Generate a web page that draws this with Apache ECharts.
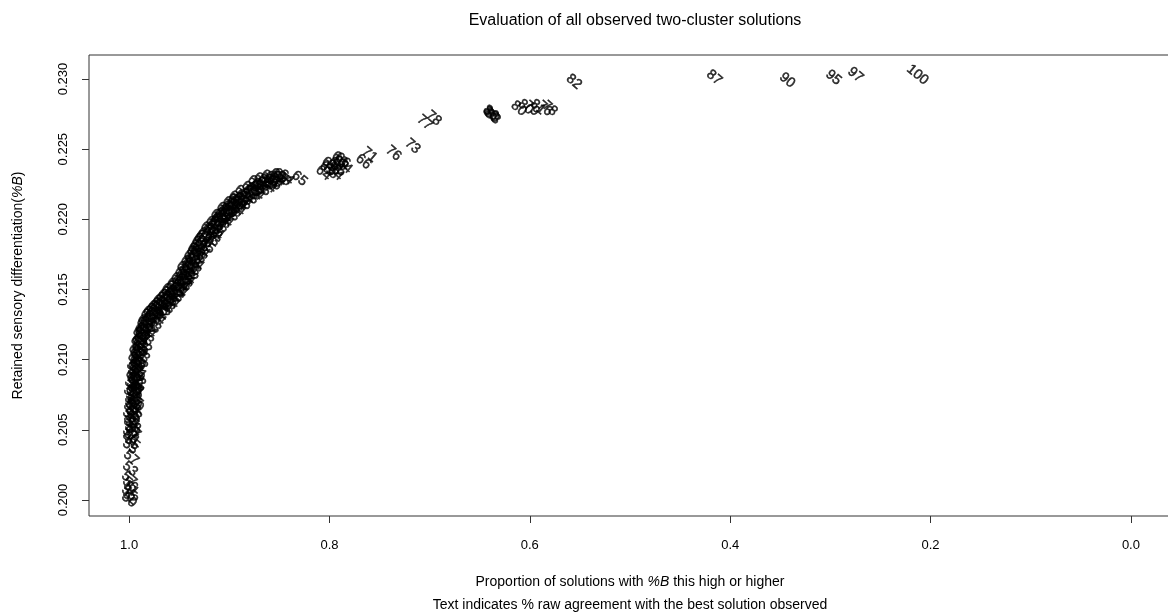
<!DOCTYPE html>
<html>
<head>
<meta charset="utf-8">
<title>Evaluation of all observed two-cluster solutions</title>
<script src="https://cdn.jsdelivr.net/npm/echarts@6/dist/echarts.min.js"></script>
<style>
  html, body { margin: 0; padding: 0; background: #fff; }
  #chart { width: 1168px; height: 614px; }
</style>
</head>
<body>
<div id="chart"></div>
<script>
// proportion of solutions with %B this high or higher
var proportion = [
  1.000, 0.999, 1.000, 0.998, 0.999, 1.000, 0.999, 0.998, 0.999, 0.998, 0.997, 0.998, 0.997, 0.996,
  0.996, 0.995, 0.996, 0.995, 0.994, 0.995, 0.994, 0.993, 0.994, 0.993, 0.992, 0.992, 0.991, 0.990,
  0.990, 0.989, 0.988, 0.987, 0.986, 0.984,
  0.982, 0.980, 0.978, 0.976, 0.974, 0.972, 0.969, 0.966, 0.963, 0.960, 0.958, 0.955, 0.952, 0.950,
  0.948, 0.946, 0.944,
  0.942, 0.940, 0.938, 0.936, 0.934, 0.932, 0.930, 0.927, 0.924,
  0.921, 0.918, 0.915, 0.912, 0.910, 0.907, 0.904, 0.900, 0.896, 0.892, 0.888,
  0.915, 0.911, 0.906, 0.902, 0.898, 0.894, 0.890, 0.886, 0.882, 0.879, 0.876, 0.873, 0.870, 0.866,
  0.862, 0.858, 0.854, 0.850, 0.846, 0.843, 0.830,
  0.806, 0.802, 0.799, 0.796, 0.793, 0.791, 0.789, 0.787, 0.794, 0.800, 0.785, 0.790,
  0.766, 0.760, 0.736, 0.717, 0.696, 0.705,
  0.639, 0.638, 0.637, 0.639,
  0.611, 0.604, 0.598, 0.592, 0.585, 0.580,
  0.556, 0.416, 0.343, 0.297, 0.275, 0.213,
  // second pass over the dense band
  0.997, 0.999, 0.996, 0.999, 0.998, 0.993, 0.997, 0.998, 0.992, 0.997, 0.991, 0.996, 0.990, 0.995,
  0.989, 0.994, 0.987, 0.993, 0.985, 0.991, 0.983, 0.989, 0.980, 0.987,
  0.976, 0.984, 0.971, 0.979, 0.967, 0.974, 0.962, 0.969, 0.957, 0.964, 0.953, 0.960, 0.949, 0.955,
  0.945, 0.951, 0.942, 0.947,
  0.939, 0.945, 0.936, 0.941, 0.933, 0.938, 0.930, 0.934, 0.927, 0.930, 0.922, 0.926,
  0.917, 0.921, 0.913, 0.916, 0.908, 0.911, 0.903, 0.905, 0.897, 0.899, 0.891, 0.893, 0.885, 0.887,
  0.878, 0.880, 0.872, 0.874, 0.866, 0.868, 0.860, 0.861, 0.855, 0.852,
  // third pass
  0.999, 0.996, 0.998, 0.995, 0.997, 0.994, 0.996, 0.993, 0.995, 0.992, 0.994, 0.991, 0.992, 0.989,
  0.990, 0.986, 0.987, 0.982, 0.985, 0.977, 0.981, 0.973, 0.976, 0.968, 0.971, 0.964, 0.966, 0.959,
  0.961, 0.954, 0.956, 0.950, 0.946, 0.943, 0.940, 0.937, 0.935, 0.932, 0.928, 0.924, 0.919, 0.914,
  0.909, 0.904, 0.900, 0.895, 0.889, 0.884, 0.877, 0.871, 0.864, 0.857, 0.849
];
// retained sensory differentiation (%B)
var retained = [
  0.2000, 0.2002, 0.2005, 0.2008, 0.2011, 0.2015, 0.2022, 0.2030, 0.2038, 0.2045, 0.2050, 0.2054, 0.2058, 0.2062,
  0.2066, 0.2069, 0.2072, 0.2075, 0.2078, 0.2081, 0.2084, 0.2087, 0.2090, 0.2093, 0.2096, 0.2099, 0.2102, 0.2105,
  0.2108, 0.2111, 0.2114, 0.2117, 0.2120, 0.2123,
  0.2126, 0.2128, 0.2130, 0.2132, 0.2134, 0.2136, 0.2138, 0.2140, 0.2142, 0.2144, 0.2146, 0.2148, 0.2150, 0.2152,
  0.2154, 0.2156, 0.2158,
  0.2161, 0.2164, 0.2167, 0.2170, 0.2173, 0.2176, 0.2179, 0.2182, 0.2185,
  0.2188, 0.2191, 0.2194, 0.2197, 0.2200, 0.2203, 0.2205, 0.2208, 0.2210, 0.2212, 0.2214,
  0.2190, 0.2199, 0.2201, 0.2204, 0.2207, 0.2213, 0.2211, 0.2216, 0.2217, 0.2219, 0.2221, 0.2222, 0.2224, 0.2225,
  0.2226, 0.2227, 0.2228, 0.2229, 0.2229, 0.2230, 0.2229,
  0.2233, 0.2236, 0.2234, 0.2237, 0.2239, 0.2236, 0.2240, 0.2242, 0.2233, 0.2239, 0.2238, 0.2243,
  0.2241, 0.2246, 0.2247, 0.2252, 0.2272, 0.2269,
  0.2276, 0.2274, 0.2273, 0.2275,
  0.2279, 0.2280, 0.2279, 0.2280, 0.2279, 0.2279,
  0.2298, 0.2301, 0.2299, 0.2301, 0.2303, 0.2303,
  // second pass over the dense band
  0.2041, 0.2047, 0.2053, 0.2060, 0.2065, 0.2068, 0.2070, 0.2076, 0.2079, 0.2082, 0.2085, 0.2088, 0.2091, 0.2094,
  0.2097, 0.2100, 0.2103, 0.2106, 0.2109, 0.2112, 0.2115, 0.2118, 0.2121, 0.2121,
  0.2124, 0.2127, 0.2130, 0.2133, 0.2134, 0.2137, 0.2138, 0.2141, 0.2142, 0.2145, 0.2146, 0.2149, 0.2150, 0.2153,
  0.2154, 0.2157, 0.2158, 0.2161,
  0.2160, 0.2165, 0.2165, 0.2169, 0.2169, 0.2173, 0.2174, 0.2178, 0.2178, 0.2183, 0.2181, 0.2187,
  0.2186, 0.2193, 0.2191, 0.2197, 0.2196, 0.2202, 0.2200, 0.2207, 0.2204, 0.2211, 0.2208, 0.2215, 0.2212, 0.2219,
  0.2216, 0.2222, 0.2219, 0.2226, 0.2222, 0.2228, 0.2224, 0.2230, 0.2226, 0.2231,
  // third pass
  0.2044, 0.2049, 0.2056, 0.2061, 0.2067, 0.2071, 0.2077, 0.2080, 0.2086, 0.2089, 0.2095, 0.2098, 0.2104, 0.2107,
  0.2113, 0.2116, 0.2119, 0.2122, 0.2125, 0.2128, 0.2131, 0.2132, 0.2135, 0.2136, 0.2139, 0.2139, 0.2143, 0.2143,
  0.2147, 0.2147, 0.2151, 0.2155, 0.2159, 0.2163, 0.2167, 0.2171, 0.2176, 0.2180, 0.2185, 0.2189, 0.2192, 0.2196,
  0.2199, 0.2203, 0.2206, 0.2209, 0.2213, 0.2215, 0.2219, 0.2223, 0.2227, 0.2229, 0.2231
];
// % raw agreement with the best solution observed
var agreement = [
  50, 52, 55, 51, 56, 57, 53, 57, 55, 56, 58, 54, 59, 56,
  58, 60, 57, 59, 61, 58, 60, 62, 59, 61, 60, 63, 61, 62,
  60, 63, 61, 62, 64, 62,
  63, 61, 64, 62, 63, 65, 62, 64, 63, 61, 64, 62, 65, 63,
  64, 62, 65,
  63, 64, 62, 65, 63, 64, 66, 63, 65,
  64, 66, 63, 65, 64, 66, 63, 65, 64, 66, 65,
  62, 66, 64, 62, 66, 63, 64, 66, 64, 63, 65, 66, 64, 63,
  65, 64, 66, 64, 63, 64, 65,
  64, 65, 63, 66, 64, 65, 63, 66, 64, 65, 64, 66,
  66, 71, 76, 73, 78, 77,
  86, 80, 83, 88,
  80, 80, 79, 81, 76, 78,
  82, 87, 90, 95, 97, 100,
  // second pass over the dense band
  55, 57, 58, 56, 59, 60, 58, 57, 61, 59, 62, 60, 61, 59,
  62, 60, 63, 61, 62, 60, 63, 61, 64, 62,
  63, 62, 64, 63, 62, 64, 63, 65, 64, 62, 63, 65, 64, 62,
  63, 65, 64, 63,
  62, 64, 63, 65, 64, 62, 63, 65, 64, 63, 65, 64,
  63, 65, 64, 66, 63, 65, 64, 66, 63, 65, 64, 66, 65, 64,
  63, 65, 64, 66, 65, 63, 64, 65, 66, 64,
  // third pass
  56, 57, 55, 58, 59, 57, 60, 58, 61, 59, 62, 60, 61, 63,
  62, 61, 63, 62, 64, 63, 62, 64, 63, 65, 62, 64, 63, 65,
  64, 62, 63, 64, 65, 63, 64, 62, 65, 63, 64, 65, 63, 64,
  66, 64, 63, 65, 64, 66, 63, 65, 64, 66, 65
];

var xTicks = [1.0, 0.8, 0.6, 0.4, 0.2, 0.0];
var yTicks = [0.200, 0.205, 0.210, 0.215, 0.220, 0.225, 0.230];

var points = proportion.map(function (p, i) {
  return [p, retained[i], agreement[i]];
});

var chart = echarts.init(document.getElementById('chart'), null, { renderer: 'canvas' });

var font = '"Liberation Sans", Arial, sans-serif';

var option = {
  backgroundColor: '#ffffff',
  animation: false,
  textStyle: { fontFamily: font },
  title: {
    text: 'Evaluation of all observed two-cluster solutions',
    left: 630,
    top: 8,
    textAlign: 'center',
    textStyle: { fontFamily: font, fontSize: 16, fontWeight: 'normal', color: '#000' }
  },
  grid: {
    left: 89,
    top: 55,
    width: 1082,
    height: 461,
    outerBoundsMode: 'none',
    containLabel: false,
    show: true,
    borderColor: '#333',
    borderWidth: 1,
    backgroundColor: 'transparent'
  },
  xAxis: {
    type: 'value',
    inverse: true,
    min: -0.04,
    max: 1.04,
    splitLine: { show: false },
    axisLine: { show: false, onZero: false },
    axisTick: { show: true, length: 7, lineStyle: { color: '#333' }, customValues: xTicks },
    axisLabel: {
      customValues: xTicks,
      margin: 23,
      fontSize: 13,
      color: '#000',
      fontFamily: font,
      formatter: function (v) { return v.toFixed(1); }
    },
    name: '{n|Proportion of solutions with }{i|%B}{n| this high or higher}\n{n|Text indicates % raw agreement with the best solution observed}',
    nameLocation: 'middle',
    nameGap: 55,
    nameTextStyle: {
      lineHeight: 23,
      rich: {
        n: { fontSize: 14, fontFamily: font, color: '#000', lineHeight: 23 },
        i: { fontSize: 14, fontFamily: font, color: '#000', fontStyle: 'italic', lineHeight: 23 }
      }
    }
  },
  yAxis: {
    type: 'value',
    min: 0.19886,
    max: 0.23171,
    splitLine: { show: false },
    axisLine: { show: false, onZero: false },
    axisTick: { show: true, length: 7, lineStyle: { color: '#333' }, customValues: yTicks },
    axisLabel: {
      customValues: yTicks,
      rotate: 90,
      margin: 19,
      fontSize: 13,
      color: '#000',
      fontFamily: font,
      formatter: function (v) { return v.toFixed(3); }
    },
    name: '{n|Retained sensory differentiation(}{i|%B}{n|)}',
    nameLocation: 'middle',
    nameRotate: 90,
    nameGap: 64,
    nameTextStyle: {
      rich: {
        n: { fontSize: 14, fontFamily: font, color: '#000' },
        i: { fontSize: 14, fontFamily: font, color: '#000', fontStyle: 'italic' }
      }
    }
  },
  series: [{
    type: 'scatter',
    data: points,
    symbol: 'circle',
    symbolSize: 1,
    itemStyle: { color: 'rgba(0,0,0,0)' },
    label: {
      show: true,
      position: 'inside',
      rotate: -40,
      fontSize: 14,
      fontFamily: font,
      color: '#000',
      textBorderColor: '#000',
      textBorderWidth: 0.5,
      formatter: function (p) { return String(p.value[2]); }
    },
    labelLayout: { hideOverlap: false }
  }]
};

chart.setOption(option);
</script>
</body>
</html>
